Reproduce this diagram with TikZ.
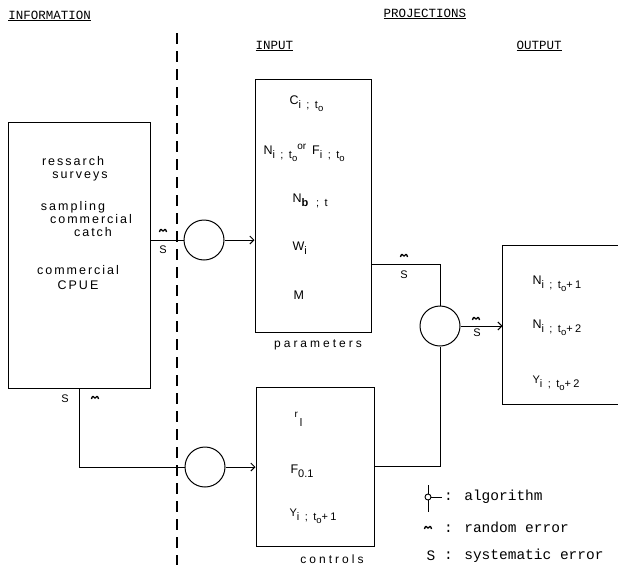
\documentclass[tikz,border=0pt]{standalone}
\usepackage{fontspec}
\setmainfont{Liberation Sans}
\newfontfamily\twfont{Liberation Mono}
\newfontfamily\spfont[LetterSpace=16]{Liberation Sans}
\newfontfamily\capfont[LetterSpace=25]{Liberation Sans}
\newfontfamily\subfont[LetterSpace=22]{Liberation Sans}
\usetikzlibrary{arrows.meta}
\newcommand{\sbx}[1]{\raisebox{-0.6ex}{\subfont\fontsize{11}{11}\selectfont #1}}
\newcommand{\sbt}[1]{\raisebox{-0.6ex}{\fontsize{11}{11}\selectfont #1}}
\newcommand{\ssbx}[1]{\raisebox{-0.55ex}{\fontsize{9.5}{10}\selectfont #1}}
\newcommand{\spx}[1]{\raisebox{0.75ex}{\fontsize{10}{10}\selectfont #1}}
\begin{document}
\begin{tikzpicture}[x=1pt,y=-1pt,line width=1pt,
  box/.style={draw,rectangle,inner sep=0pt},
  alg/.style={draw,circle,minimum size=40pt,inner sep=0pt},
  hdr/.style={font=\twfont\fontsize{12.5}{14}\selectfont,inner sep=0pt,anchor=base west},
  txt/.style={font=\spfont\fontsize{12.5}{14}\selectfont,inner sep=0pt,text height=7pt,text depth=2pt},
  lab/.style={font=\fontsize{12.5}{13}\selectfont,inner sep=0pt,anchor=west},
  capt/.style={font=\capfont\fontsize{12}{14}\selectfont,inner sep=0pt},
  leg/.style={font=\twfont\fontsize{14.5}{16}\selectfont,inner sep=0pt,anchor=west},
  err/.style={font=\fontsize{11}{12}\selectfont,inner sep=0pt},
  arr/.style={-{Straight Barb[length=4pt,width=8pt]}},
  dline/.style={dash pattern=on 11pt off 7pt,line width=1.3pt},
  rnd/.pic={\draw[line width=1.3pt] (-3.5,1) .. controls (-3,-2.2) and (-1.2,-2.2) .. (0,0) .. controls (1.2,-2.2) and (3,-2.2) .. (3.5,1);}
]
\useasboundingbox (0,0) rectangle (618,565);

% headers
\node[hdr] (hinfo) at (8,19) {\underline{INFORMATION}};
\node[hdr] (hproj) at (383,17) {\underline{PROJECTIONS}};
\node[hdr] (hin) at (255,49) {\underline{INPUT}};
\node[hdr] (hout) at (516,49) {\underline{OUTPUT}};

% dashed separator
\coordinate (dtop) at (177,33);
\coordinate (dbot) at (177,565);
\draw[dline] (dtop) -- (dbot);

% boxes
\node[box,minimum width=142pt,minimum height=266pt] (info) at (79,255) {};
\node[box,minimum width=116pt,minimum height=253pt] (params) at (313,205.5) {};
\node[box,minimum width=118pt,minimum height=159pt] (ctrl) at (315,466.5) {};
\node[rectangle,inner sep=0pt,minimum width=119pt,minimum height=158pt] (out) at (562.5,325) {};
\draw (out.north east) -- (out.north west) -- (out.south west) -- (out.south east);

% algorithms
\node[alg] (c1) at (204,240) {};
\node[alg] (c2) at (205,467) {};
\node[alg] (c3) at (440,326) {};

% connectors
\draw (info.east |- c1) -- (c1.west);
\draw[arr] (c1.east) -- (params.west |- c1);
\draw (info.south) |- (c2.west);
\draw[arr] (c2.east) -- (ctrl.west |- c2);
\coordinate (pout) at (371,264);
\draw (pout) -| (c3.north);
\draw (ctrl.east) -| (c3.south);
\draw[arr] (c3.east) -- (out.west |- c3);

% error marks
\pic at (163,231) {rnd}; \node[err] (s1) at (163,250) {S};
\node[err] (s2) at (65,399) {S}; \pic at (95,398) {rnd};
\pic at (404,256) {rnd}; \node[err] (s3) at (404,275) {S};
\pic at (476,319) {rnd}; \node[err] (s4) at (477,333) {S};

% information text
\node[txt] (t1) at (73,163) {ressarch};
\node[txt] (t2) at (80,176) {surveys};
\node[txt] (t3) at (73,208) {sampling};
\node[txt] (t4) at (91,221) {commercial};
\node[txt] (t5) at (93,234) {catch};
\node[txt] (t6) at (78,272) {commercial};
\node[txt] (t7) at (78,287) {CPUE};

% parameters
\node[lab] (p1) at (289,104) {C\sbx{i ; t\ssbx{o}}};
\node[lab] (p2) at (263,153) {N\sbx{i ; t\ssbx{o}}\spx{or}\hspace{6pt}F\sbx{i ; t\ssbx{o}}};
\node[lab] (p3) at (292,201) {N\sbx{\textbf{b} ; t}};
\node[lab] (p4) at (292,248) {W\sbx{i}};
\node[lab] (p5) at (293,295) {M};
\node[capt] (pcap) at (318,345) {parameters};

% controls
\node[lab] (k1) at (294,419) {\spx{r}\,\sbx{l}};
\node[lab] (k2) at (290,471) {F\sbt{0.1}};
\node[lab] (k3) at (289,516) {{\fontsize{11}{11}\selectfont Y}\sbx{i ; t\ssbx{o}+1}};
\node[capt] (kcap) at (332,559) {controls};

% output
\node[lab] (o1) at (532,284) {N\sbx{i ; t\ssbx{o}+1}};
\node[lab] (o2) at (532,328) {N\sbx{i ; t\ssbx{o}+2}};
\node[lab] (o3) at (532,383) {{\fontsize{11}{11}\selectfont Y}\sbx{i ; t\ssbx{o}+2}};

% legend
\node[circle,draw,minimum size=6pt,inner sep=0pt,line width=0.9pt] (lalg) at (428,497) {};
\coordinate (la1) at (428,485);
\coordinate (la2) at (428,512);
\coordinate (la3) at (442,497);
\draw[line width=0.9pt] (la1) -- (lalg.north);
\draw[line width=0.9pt] (lalg.south) -- (la2);
\draw[line width=0.9pt] (lalg.east) -- (la3);
\node[leg] (lt1) at (443.5,497) {: algorithm};
\pic at (428,528) {rnd};
\node[leg] (lt2) at (443.5,527) {: random error};
\node[leg,anchor=center] (ls) at (431,556) {S};
\node[leg] (lt3) at (443.5,556) {: systematic error};
\end{tikzpicture}
\end{document}
